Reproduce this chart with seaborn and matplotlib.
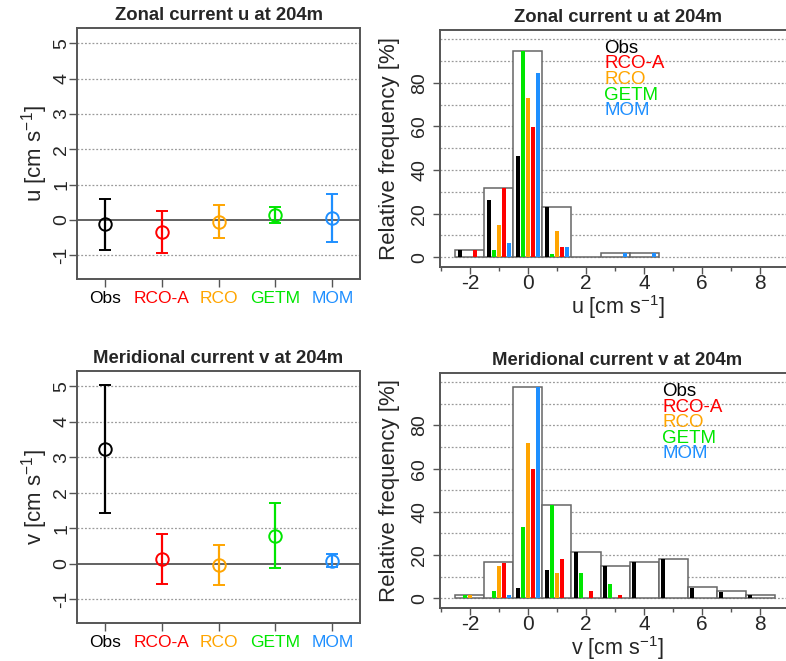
import numpy as np
import pandas as pd
import matplotlib
matplotlib.use("Agg")
import matplotlib.pyplot as plt
from matplotlib.ticker import MultipleLocator
import seaborn as sns

# ---------------- data ----------------
models = ["Obs", "RCO-A", "RCO", "GETM", "MOM"]
model_colors = ["#000000", "#FF0000", "#FFA500", "#00E600", "#1E8FFF"]

# mean and spread (low/high) of the zonal current u
u_mean = [-0.11, -0.35, -0.06, 0.15, 0.06]
u_low = [-0.84, -0.93, -0.51, -0.10, -0.61]
u_high = [0.58, 0.24, 0.41, 0.38, 0.74]

# mean and spread of the meridional current v
v_mean = [3.22, 0.13, -0.03, 0.79, 0.08]
v_low = [1.42, -0.57, -0.60, -0.12, -0.10]
v_high = [5.03, 0.83, 0.52, 1.70, 0.28]

# histogram bins (cm/s)
bins = [-2, -1, 0, 1, 2, 3, 4, 5, 6, 7, 8]

# zonal u: relative frequency [%]
u_outline = [3.4, 31.6, 94.7, 23.2, 0.0, 1.8, 1.8, np.nan, np.nan, np.nan, np.nan]
u_obs = [3.4, 26.4, 46.6, 23.2, 0, 0, 0, 0, 0, 0, 0]
u_rcoa = [3.4, 31.6, 59.8, 4.9, 0, 0, 0, 0, 0, 0, 0]
u_rco = [0, 15.0, 73.0, 11.8, 0, 0, 0, 0, 0, 0, 0]
u_getm = [0, 3.4, 94.7, 1.5, 0, 0, 0, 0, 0, 0, 0]
u_mom = [0, 6.6, 84.7, 4.9, 0, 1.8, 1.8, 0, 0, 0, 0]

# meridional v: relative frequency [%]
v_outline = [1.5, 16.7, 98.0, 43.4, 21.6, 14.8, 16.7, 18.2, 5.0, 3.4, 1.5]
v_obs = [0, 0, 4.7, 13.1, 21.6, 14.8, 16.7, 18.2, 4.7, 3.0, 1.5]
v_rcoa = [0, 16.5, 60.0, 18.2, 3.2, 1.5, 0, 0, 0, 0, 0]
v_rco = [1.5, 14.8, 71.7, 11.5, 0, 0, 0, 0, 0, 0, 0]
v_getm = [1.5, 3.2, 33.2, 43.4, 11.5, 6.4, 0, 0, 0, 0, 0]
v_mom = [0, 1.5, 98.0, 0, 0, 0, 0, 0, 0, 0, 0]

# order of the thin bars inside each bin (left to right)
bar_order = ["Obs", "GETM", "RCO", "RCO-A", "MOM"]

sns.set_style("white")
plt.rcParams["font.family"] = ["Liberation Sans", "DejaVu Sans"]
plt.rcParams["mathtext.fontset"] = "custom"
plt.rcParams["mathtext.rm"] = "Liberation Sans"
plt.rcParams["mathtext.it"] = "Liberation Sans"

W, H = 786, 661
fig = plt.figure(figsize=(W / 100, H / 100), dpi=100)


def px_axes(left, top, right, bottom):
    return fig.add_axes([left / W, 1 - bottom / H, (right - left) / W, (bottom - top) / H])


spine_col = "#555555"
grid_col = "#9a9a9a"
pal = dict(zip(models, model_colors))


def style_frame(ax):
    for s in ax.spines.values():
        s.set_visible(True)
        s.set_color(spine_col)
        s.set_linewidth(1.4)


def err_panel(ax, mean, low, high, title, ylab):
    x = np.arange(len(models))
    ax.set_ylim(-1.67, 5.43)
    ax.set_xlim(-0.485, 4.485)
    for yy in [-1, 1, 2, 3, 4, 5]:
        ax.axhline(yy, color=grid_col, lw=0.9, ls=(0, (1.5, 1.5)), zorder=0)
    ax.axhline(0, color="#555555", lw=1.3, zorder=1)
    for i in range(len(models)):
        m = mean[i]
        ax.errorbar([x[i]], [m], yerr=[[m - low[i]], [high[i] - m]], fmt="o",
                    mfc="none", mec=model_colors[i], ecolor=model_colors[i],
                    ms=9, mew=1.4, elinewidth=1.6, capsize=4.5, capthick=1.6, zorder=3)
    ax.set_xticks(x)
    ax.set_xticklabels(models, fontsize=12.5)
    for t, c in zip(ax.get_xticklabels(), model_colors):
        t.set_color(c)
    ax.set_yticks([-1, 0, 1, 2, 3, 4, 5])
    ax.set_yticklabels(["-1", "0", "1", "2", "3", "4", "5"], rotation=90, va="center", fontsize=14)
    ax.tick_params(axis="both", direction="out", length=6, width=1.0, color=spine_col,
                   left=True, bottom=True)
    ax.tick_params(axis="x", pad=2.5)
    ax.tick_params(axis="y", pad=-1)
    ax.set_ylabel(ylab, fontsize=16, labelpad=2)
    ax.set_title(title, fontsize=13.3, fontweight="bold", pad=6)
    style_frame(ax)


def hist_panel(ax, outline, series, title, xlab, leg_xy):
    ax.set_xlim(-3.03, 9.2)
    ax.set_ylim(-4.5, 104.3)
    for yy in range(0, 101, 10):
        ax.axhline(yy, color=grid_col, lw=0.9, ls=(0, (1.5, 1.5)), zorder=0)
    df_o = pd.DataFrame({"bin": bins, "freq": outline}).dropna()
    sns.barplot(data=df_o, x="bin", y="freq", native_scale=True, width=1.0,
                color="white", saturation=1, edgecolor="#666666", linewidth=1.1,
                ax=ax, zorder=2)
    rows = []
    for name in bar_order:
        for b, f in zip(bins, series[name]):
            rows.append({"bin": b, "freq": f, "model": name})
    df = pd.DataFrame(rows)
    sns.barplot(data=df, x="bin", y="freq", hue="model", hue_order=bar_order,
                palette=pal, native_scale=True, dodge=True, width=0.85, gap=0.18,
                saturation=1, linewidth=0, legend=False, ax=ax, zorder=3)
    ax.set_xlim(-3.03, 9.2)
    ax.set_ylim(-4.5, 104.3)
    ax.set_xticks([-2, 0, 2, 4, 6, 8])
    ax.set_xticklabels(["-2", "0", "2", "4", "6", "8"], fontsize=15)
    ax.xaxis.set_minor_locator(MultipleLocator(1))
    ax.set_yticks([0, 20, 40, 60, 80])
    ax.set_yticklabels(["0", "20", "40", "60", "80"], rotation=90, va="center", fontsize=14)
    ax.tick_params(axis="both", which="major", direction="out", length=5, width=1.0,
                   color=spine_col, left=True, bottom=True)
    ax.tick_params(axis="x", which="minor", direction="out", length=3, width=1.0,
                   color=spine_col, bottom=True)
    ax.tick_params(axis="x", pad=0)
    ax.tick_params(axis="y", pad=3.5)
    ax.set_xlabel(xlab, fontsize=15.5, labelpad=0)
    ax.set_ylabel("Relative frequency [%]", fontsize=16, labelpad=8)
    ax.set_title(title, fontsize=13.3, fontweight="bold", pad=6)
    style_frame(ax)
    lx, ly = leg_xy
    for k, (name, c) in enumerate(zip(models, model_colors)):
        ax.text(lx, ly - 7.2 * k, name, color=c, fontsize=13.5, ha="left", va="center", zorder=5)


ax1 = px_axes(77, 28, 360, 279)
err_panel(ax1, u_mean, u_low, u_high, "Zonal current u at 204m", r"u [cm s$^{-1}$]")

ax3 = px_axes(77, 371, 360, 623)
err_panel(ax3, v_mean, v_low, v_high, "Meridional current v at 204m", r"v [cm s$^{-1}$]")

ax2 = px_axes(440, 30, 795, 267)
hist_panel(ax2, u_outline,
           {"Obs": u_obs, "RCO-A": u_rcoa, "RCO": u_rco, "GETM": u_getm, "MOM": u_mom},
           "Zonal current u at 204m", r"u [cm s$^{-1}$]", (2.62, 96.0))

ax4 = px_axes(440, 373, 795, 608)
hist_panel(ax4, v_outline,
           {"Obs": v_obs, "RCO-A": v_rcoa, "RCO": v_rco, "GETM": v_getm, "MOM": v_mom},
           "Meridional current v at 204m", r"v [cm s$^{-1}$]", (4.62, 95.6))

fig.savefig("out.png", dpi=100)
